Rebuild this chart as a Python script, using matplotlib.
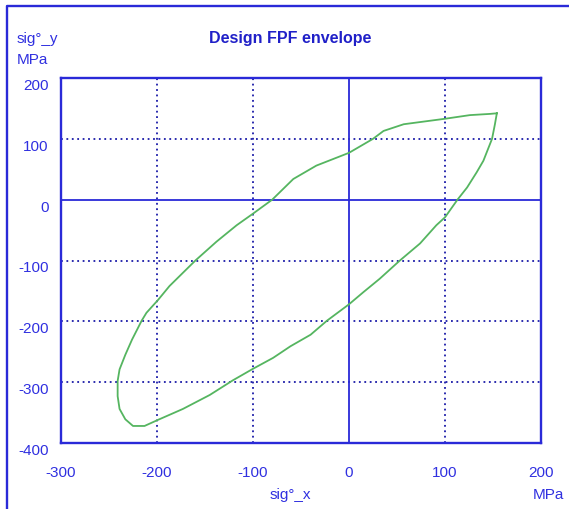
import numpy as np
import matplotlib
matplotlib.use('Agg')
from matplotlib import pyplot as plt
from matplotlib.lines import Line2D

plt.rcParams['font.family'] = ['Liberation Sans', 'DejaVu Sans']
plt.rcParams['axes.unicode_minus'] = False

# FPF envelope, traced around the loop (MPa)
sig_x = [154, 147, 126, 100, 57, 36, 25, 0, -34, -58, -80, -100, -117, -138,
         -160, -187, -199, -211, -216, -226, -233, -239, -241, -241, -239,
         -233, -225, -213, -199, -173, -145, -121, -100, -79, -61, -40, -23,
         0, 15, 32, 53, 74, 91, 100, 113, 123, 133, 140, 149, 152, 154]
sig_y = [142, 141, 139, 133, 124, 113, 100, 77, 56, 34, 0, -23, -42, -69,
         -100, -142, -165, -186, -199, -230, -255, -279, -298, -323, -344,
         -361, -372, -372, -362, -344, -321, -297, -278, -260, -241, -222, -199,
         -172, -152, -130, -100, -72, -42, -29, 0, 20, 45, 64, 100, 124, 142]

xticks = [-300, -200, -100, 0, 100, 200]
yticks = [-400, -300, -200, -100, 0, 100, 200]

W, H = 569, 510
blue = '#2a2ad8'
txt = '#3030e0'

fig = plt.figure(figsize=(W/100, H/100), dpi=100)
ax = fig.add_axes([61/W, 1-444/H, 480/W, 365/H])

ax.plot(sig_x, sig_y, color='#55b560', lw=1.3)

for v in [-200, -100, 100]:
    ax.axvline(v, color='#1a1aa8', lw=1.3, ls=(0, (1, 2)), zorder=0)
for v in [-300, -200, -100, 100]:
    ax.axhline(v, color='#1a1aa8', lw=1.3, ls=(0, (1, 2)), zorder=0)
ax.axvline(0, color=blue, lw=1.3, zorder=1)
ax.axhline(0, color=blue, lw=1.3, zorder=1)

ax.set_xlim(-300, 200)
ax.set_ylim(-400, 200)
ax.set_xticks(xticks)
ax.set_yticks(yticks)
ax.tick_params(length=0, labelsize=11, labelcolor=txt)
ax.tick_params(axis='x', pad=16)
ax.tick_params(axis='y', pad=9)
for lab in ax.get_yticklabels():
    lab.set_va('top')
for s in ax.spines.values():
    s.set_color(blue)
    s.set_linewidth(1.7)

fig.text(290/W, 1-39/H, 'Design FPF envelope', ha='center', va='center',
         fontsize=11.5, fontweight='bold', color='#2020c8')
fig.text(17/W, 1-39/H, 'sig°_y', ha='left', va='center', fontsize=11, color=txt)
fig.text(17/W, 1-60/H, 'MPa', ha='left', va='center', fontsize=11, color=txt)
fig.text(290/W, 1-495/H, 'sig°_x', ha='center', va='center', fontsize=11, color=txt)
fig.text(548/W, 1-495/H, 'MPa', ha='center', va='center', fontsize=11, color=txt)

# outer frame (left and top edges)
fig.add_artist(Line2D([6.7/W, 6.7/W, 1], [0, 1-6.7/H, 1-6.7/H],
                      transform=fig.transFigure, color=blue, lw=1.7))

fig.savefig('out.png', dpi=100)
